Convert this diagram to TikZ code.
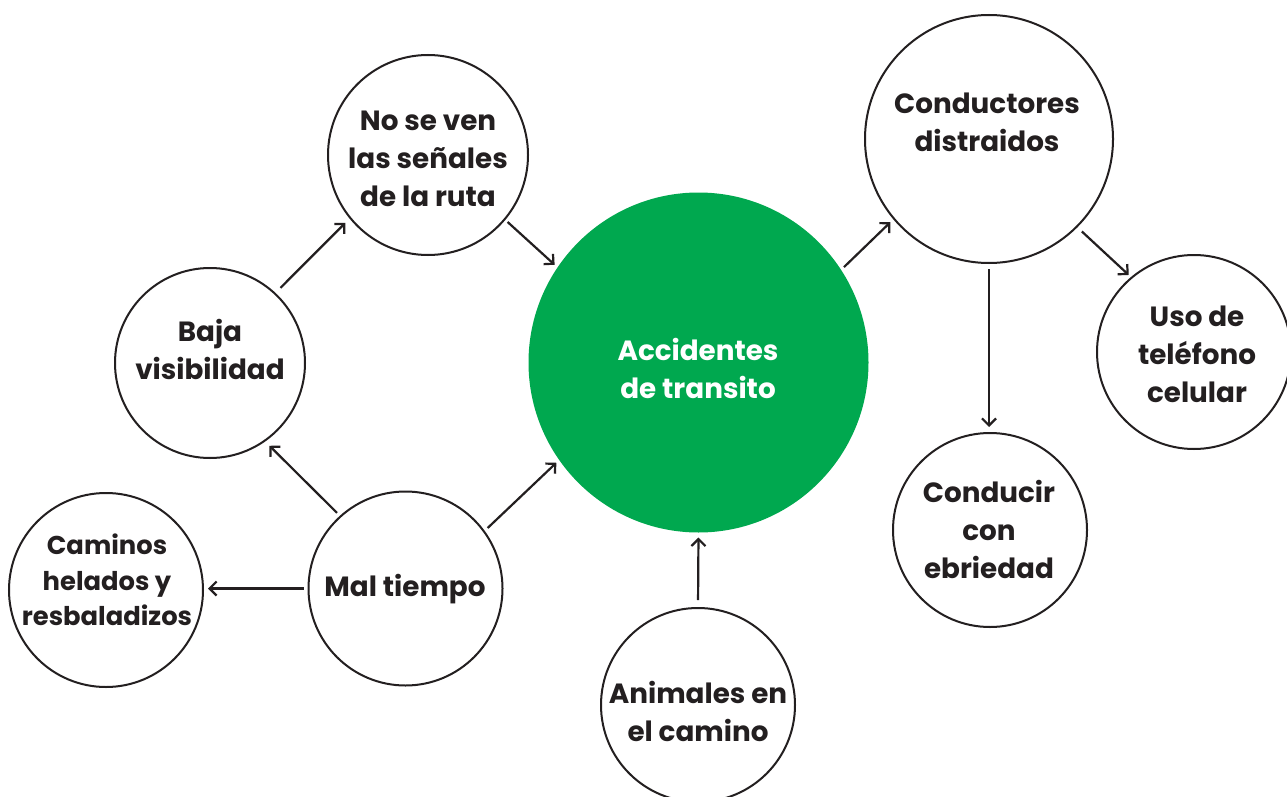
\documentclass[tikz,border=0pt]{standalone}
\usepackage{fontspec}
\setmainfont{Poppins}
\usetikzlibrary{arrows.meta}
\definecolor{acgreen}{HTML}{00A84F}
\definecolor{ink}{HTML}{231F20}
\begin{document}
\begin{tikzpicture}[x=1pt,y=-1pt,
  circ/.style={circle, draw=ink, line width=2pt, fill=white, inner sep=0pt, outer sep=0pt},
  maincirc/.style={circle, fill=acgreen, inner sep=0pt, outer sep=0pt},
  lbl/.style={font=\fontsize{27.8}{38}\selectfont\bfseries, text=ink, align=center, inner sep=0pt},
  smalllbl/.style={lbl, font=\fontsize{25.8}{35.5}\selectfont\bfseries},
  arr/.style={draw=ink, line width=2.2pt, -{Straight Barb[length=7pt,width=14pt]}},
]
\useasboundingbox (0,0) rectangle (1287,797);
\fill[white] (0,0) rectangle (1287,797);

% circles
\node[maincirc, minimum size=340pt] (acc) at (698.5,362.5) {};
\node[circ, minimum size=200pt] (nose) at (428,155) {};
\node[circ, minimum size=190pt] (baja) at (210,363) {};
\node[circ, minimum size=194pt] (mal) at (405.5,588.5) {};
\node[circ, minimum size=194pt] (cam) at (106,590) {};
\node[circ, minimum size=194pt] (ani) at (698,705) {};
\node[circ, minimum size=248pt] (cond) at (989,139) {};
\node[circ, minimum size=194pt] (uso) at (1194,352) {};
\node[circ, minimum size=194pt] (ebr) at (990,530) {};

% labels
\node[lbl, text=white] (tacc) at (698,368) {Accidentes\\de transito};
\node[lbl] (tnose) at (428,159) {No se ven\\las señales\\de la ruta};
\node[lbl] (tbaja) at (210,349) {Baja\\visibilidad};
\node[lbl] (tmal) at (405,589) {Mal tiempo};
\node[smalllbl] (tcam) at (107,580) {Caminos\\helados y\\resbaladizos};
\node[lbl] (tani) at (698,711) {Animales en\\el camino};
\node[lbl] (tcond) at (987,122) {Conductores\\distraidos};
\node[lbl] (tuso) at (1197,354) {Uso de\\teléfono\\celular};
\node[lbl] (tebr) at (989,529) {Conducir\\con\\ebriedad};

% connectors
\draw[arr, shorten <=8pt, shorten >=7pt] (baja.47.4) -- (nose.219.3);
\draw[arr, shorten <=4pt, shorten >=4pt] (nose.-40.7) -- (acc.146.7);
\draw[arr, shorten <=5pt, shorten >=7pt] (mal.132.2) -- (baja.-55.4);
\draw[arr, shorten <=5pt, shorten >=4pt] (mal.36.3) -- (acc.215.4);
\draw[arr, shorten <=5pt, shorten >=5pt] (mal.west) -- (mal.west -| cam.east);
\draw[arr, shorten <=8pt, shorten >=5pt] (ani.north) -- (acc.south);
\draw[arr, shorten <=4pt, shorten >=5pt] (acc.33.1) -- (cond.220);
\draw[arr, shorten <=7pt, shorten >=4pt] (cond.-45) -- (uso.130.6);
\draw[arr, shorten <=6pt, shorten >=6pt] (cond.south) -- (cond.south |- ebr.north);
\end{tikzpicture}
\end{document}
